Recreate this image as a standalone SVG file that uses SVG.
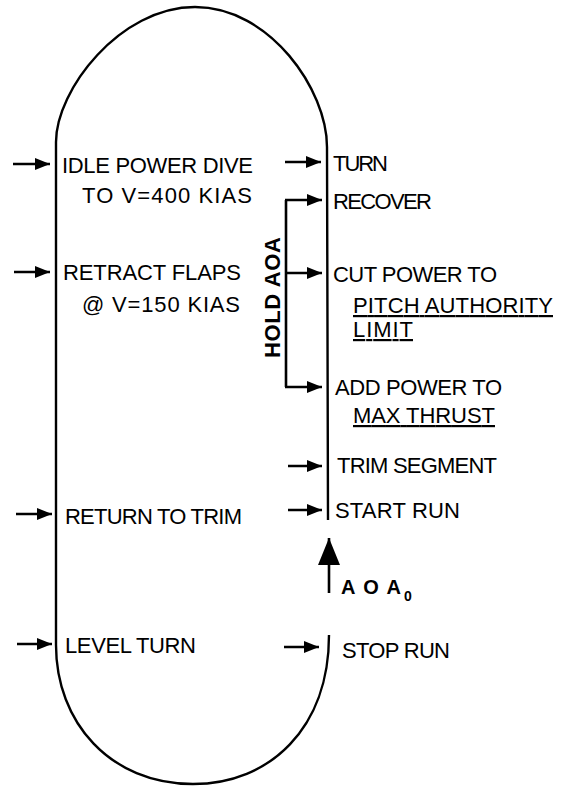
<svg xmlns="http://www.w3.org/2000/svg" width="563" height="786" viewBox="0 0 563 786">
<style>
.t{font-family:"Liberation Sans",Arial,sans-serif;font-size:22px;fill:#000}
.b{font-family:"Liberation Sans",Arial,sans-serif;font-weight:bold;fill:#000}
.u{text-decoration:underline}
.o{fill:none;stroke:#000;stroke-width:2.4}
.a{fill:none;stroke:#000;stroke-width:2.6}
</style>
<defs>
<marker id="h" markerUnits="userSpaceOnUse" markerWidth="15" markerHeight="12" refX="15" refY="6" orient="auto">
<path d="M0,0 L15,6 L0,12 z" fill="#000"/>
</marker>
<marker id="H" markerUnits="userSpaceOnUse" markerWidth="27" markerHeight="22" refX="27" refY="11" orient="auto">
<path d="M0,0 L27,11 L0,22 z" fill="#000"/>
</marker>
</defs>
<g id="outline">
<path class="o" d="M56,645 V142 C56,90 120,7 195,7 C270,7 327,90 327,147 L328,520"/>
<path class="o" d="M56,645 C56,722 110,784 193,784 C270,784 329,728 329,635"/>
</g>
<g id="connectors">
<line class="a" x1="13" y1="164" x2="50" y2="164" marker-end="url(#h)"/>
<line class="a" x1="14" y1="272" x2="50" y2="272" marker-end="url(#h)"/>
<line class="a" x1="16" y1="514" x2="52" y2="514" marker-end="url(#h)"/>
<line class="a" x1="17" y1="644" x2="52" y2="644" marker-end="url(#h)"/>
<line class="a" x1="285" y1="162" x2="321" y2="162" marker-end="url(#h)"/>
<line class="a" x1="288" y1="466" x2="322" y2="466" marker-end="url(#h)"/>
<line class="a" x1="288" y1="510" x2="322" y2="510" marker-end="url(#h)"/>
<line class="a" x1="284" y1="647" x2="319" y2="647" marker-end="url(#h)"/>
<path class="a" d="M286,200 V387"/>
<line class="a" x1="285" y1="200" x2="322" y2="200" marker-end="url(#h)"/>
<line class="a" x1="286" y1="273" x2="322" y2="273" marker-end="url(#h)"/>
<line class="a" x1="285" y1="387" x2="322" y2="387" marker-end="url(#h)"/>
<line class="a" x1="329" y1="593" x2="329" y2="538" stroke-width="3" marker-end="url(#H)"/>
</g>
<g id="idle"><text class="t" x="62" y="173" textLength="191">IDLE POWER DIVE</text><text class="t" x="82" y="203" textLength="170">TO V=400 KIAS</text></g>
<g id="retract"><text class="t" x="63" y="280" textLength="178">RETRACT FLAPS</text><text class="t" x="82" y="312" textLength="158">@ V=150 KIAS</text></g>
<g id="return"><text class="t" x="65" y="524" textLength="177">RETURN TO TRIM</text></g>
<g id="level"><text class="t" x="65" y="653" textLength="131">LEVEL TURN</text></g>
<g id="turn"><text class="t" x="333" y="171" textLength="55">TURN</text></g>
<g id="recover"><text class="t" x="333" y="209" textLength="99">RECOVER</text></g>
<g id="cut"><text class="t" x="333" y="282" textLength="164">CUT POWER TO</text><text class="t u" x="353" y="313" textLength="200">PITCH AUTHORITY</text><text class="t u" x="353" y="337" textLength="60">LIMIT</text></g>
<g id="add"><text class="t" x="335" y="395" textLength="167">ADD POWER TO</text><text class="t u" x="353" y="423" textLength="142">MAX THRUST</text></g>
<g id="trim"><text class="t" x="337" y="473" textLength="160">TRIM SEGMENT</text></g>
<g id="start"><text class="t" x="335" y="518" textLength="125">START RUN</text></g>
<g id="stop"><text class="t" x="342" y="658" textLength="108">STOP RUN</text></g>
<g id="aoa0"><text class="b" x="341" y="594" font-size="20" textLength="60">AOA</text><text class="b" x="404" y="601" font-size="14">0</text></g>
<g id="hold"><text class="b" font-size="22" transform="translate(280,358) rotate(-90)" textLength="121">HOLD AOA</text></g>
</svg>
